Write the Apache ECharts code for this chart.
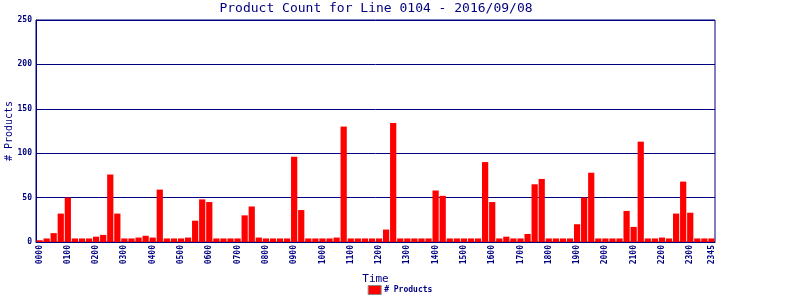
<!DOCTYPE html>
<html>
<head>
<meta charset="utf-8">
<script src="https://cdn.jsdelivr.net/npm/echarts@6/dist/echarts.min.js"></script>
<style>html,body{margin:0;padding:0;background:#fff}#c{width:800px;height:300px}</style>
</head>
<body>
<div id="c"></div>
<script>
const titleText = "Product Count for Line 0104 - 2016/09/08";
const categories = [
"0000","0015","0030","0045","0100","0115","0130","0145",
"0200","0215","0230","0245","0300","0315","0330","0345",
"0400","0415","0430","0445","0500","0515","0530","0545",
"0600","0615","0630","0645","0700","0715","0730","0745",
"0800","0815","0830","0845","0900","0915","0930","0945",
"1000","1015","1030","1045","1100","1115","1130","1145",
"1200","1215","1230","1245","1300","1315","1330","1345",
"1400","1415","1430","1445","1500","1515","1530","1545",
"1600","1615","1630","1645","1700","1715","1730","1745",
"1800","1815","1830","1845","1900","1915","1930","1945",
"2000","2015","2030","2045","2100","2115","2130","2145",
"2200","2215","2230","2245","2300","2315","2330","2345"
];
const productCounts = [
2,4,10,32,50,4,4,4,
6,8,76,32,4,4,5,7,
5,59,4,4,4,5,24,48,
45,4,4,4,4,30,40,5,
4,4,4,4,96,36,4,4,
4,4,5,130,4,4,4,4,
4,14,134,4,4,4,4,4,
58,52,4,4,4,4,4,90,
45,4,6,4,4,9,65,71,
4,4,4,4,20,50,78,4,
4,4,4,35,17,113,4,4,
5,4,32,68,33,4,4,4
];
const yTicks = [0,50,100,150,200,250];
const seriesName = "# Products";
const navy = "#000080";
const mono = "'DejaVu Sans Mono', monospace";

const chart = echarts.init(document.getElementById('c'), null, {renderer:'canvas'});
chart.setOption({
  animation:false,
  backgroundColor:'#ffffff',
  title:{text:titleText,left:376,textAlign:'center',top:2,padding:0,
    textStyle:{color:navy,fontFamily:mono,fontSize:13,fontWeight:'normal'}},
  grid:{left:36,right:85,top:20,bottom:58,containLabel:false,outerBoundsMode:'none',
    show:true,borderColor:navy,borderWidth:1},
  legend:{bottom:0,left:'center',data:[seriesName],icon:'rect',itemWidth:13,itemHeight:9,itemGap:4,
    itemStyle:{borderColor:'#888888',borderWidth:1},
    textStyle:{color:navy,fontFamily:mono,fontSize:8,fontWeight:'bold',padding:[0,0,0,-2]}},
  xAxis:{type:'category',data:categories,name:'Time',nameLocation:'middle',nameGap:32,
    nameMoveOverlap:false,
    nameTextStyle:{color:navy,fontFamily:mono,fontSize:11},
    axisLine:{lineStyle:{color:navy,width:1}},axisTick:{show:false},
    axisLabel:{rotate:90,margin:3,color:navy,fontFamily:mono,fontSize:8,fontWeight:'bold',
      interval:0,formatter:function(v,i){return (i%4===0||i===categories.length-1)?v:'';}},
    splitLine:{show:false}},
  yAxis:{type:'value',min:yTicks[0],max:yTicks[yTicks.length-1],interval:50,
    name:seriesName,nameLocation:'middle',nameGap:22,nameMoveOverlap:false,
    nameTextStyle:{color:navy,fontFamily:mono,fontSize:10},
    axisLine:{show:true,lineStyle:{color:navy}},axisTick:{show:false},
    axisLabel:{color:navy,fontFamily:mono,fontSize:8,fontWeight:'bold',margin:4},
    splitLine:{lineStyle:{color:navy,width:1,type:'solid'}}},
  series:[{name:seriesName,type:'bar',data:productCounts,barCategoryGap:'12%',
    itemStyle:{color:'#ff0000'}}]
});
</script>
</body>
</html>
